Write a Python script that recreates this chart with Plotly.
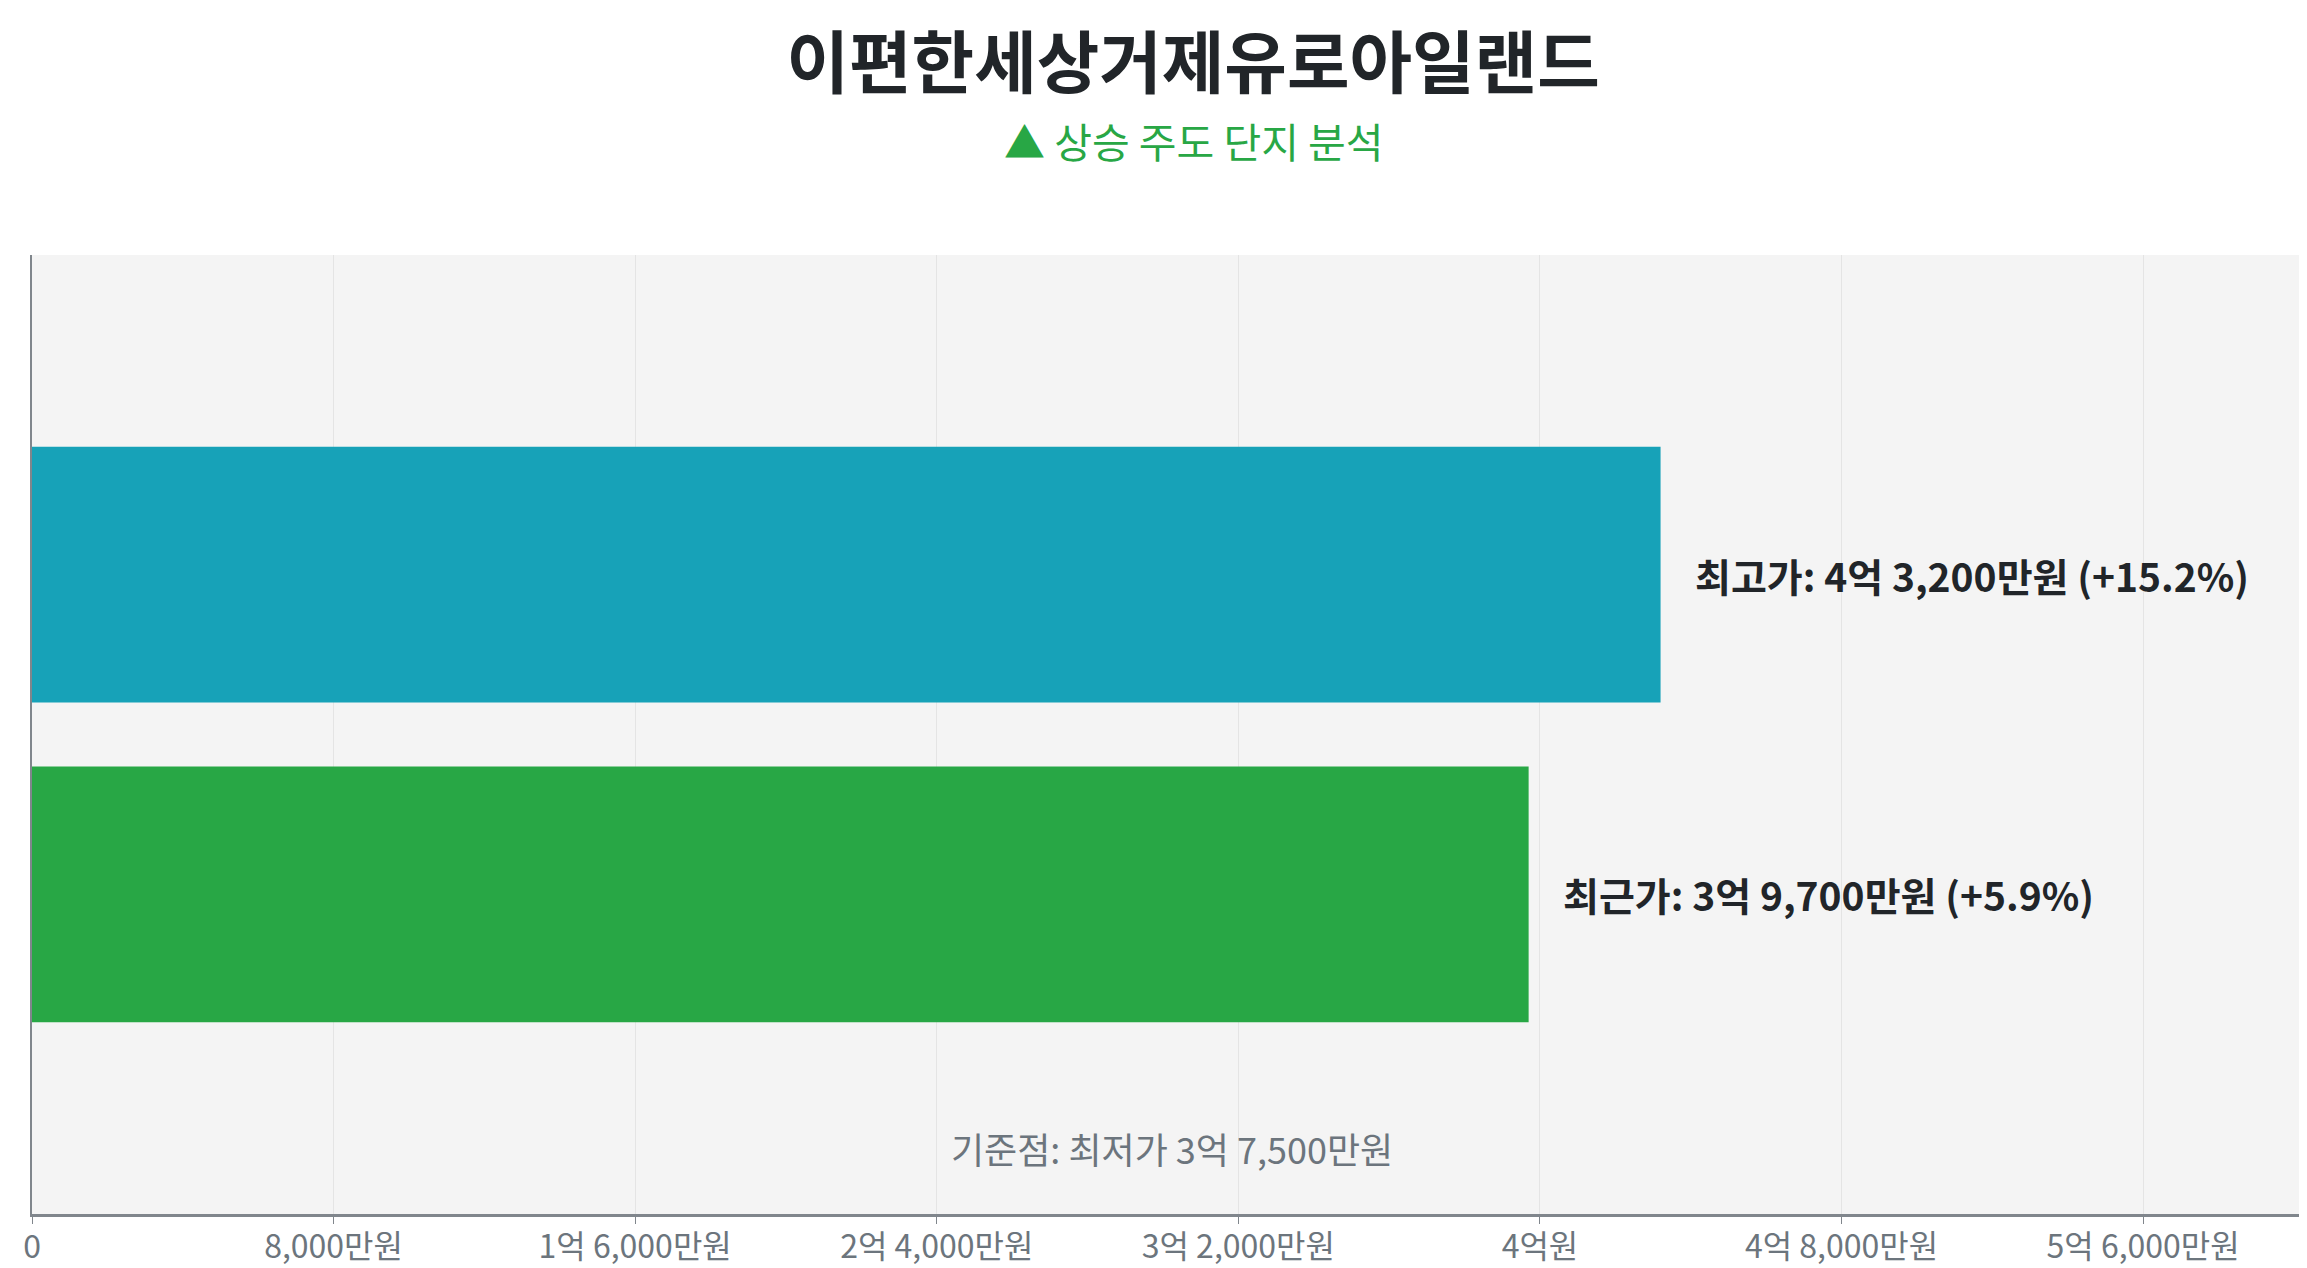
import plotly.graph_objects as go

# values in won
base_label = "최저가"
base_price = 375000000
bar_labels = ["최근가", "최고가"]
bar_prices = [397000000, 432000000]
bar_colors = ["#28a745", "#17a2b8"]
tick_step = 80000000

title_text = "이편한세상거제유로아일랜드"
subtitle_text = "▲ 상승 주도 단지 분석"
FONT = "Noto Sans CJK KR"


def won_text(v):
    # 432000000 -> "4억 3,200만원"
    eok = int(v // 100000000)
    man = int((v % 100000000) // 10000)
    if v == 0:
        return "0"
    if eok and man:
        return f"{eok}억 {man:,}만원"
    if eok:
        return f"{eok}억원"
    return f"{man:,}만원"


x_max = max(bar_prices) * 1.4
tickvals = list(range(0, int(x_max), tick_step))
ticktext = [won_text(v) for v in tickvals]

fig = go.Figure()
fig.add_trace(go.Bar(
    x=bar_prices, y=[1, 2], orientation="h",
    marker=dict(color=bar_colors, line=dict(width=0)),
    width=0.8, showlegend=False, hoverinfo="skip",
))

# labels next to each bar
for lab, p, yy in zip(bar_labels, bar_prices, [1, 2]):
    pct = (p / base_price - 1) * 100
    fig.add_annotation(
        x=p, y=yy, xref="x", yref="y", xanchor="left", yanchor="middle",
        xshift=32, showarrow=False,
        text=f"<b>{lab}: {won_text(p)} (+{pct:.1f}%)</b>",
        font=dict(family=FONT, size=39, color="#212529"),
    )

# baseline note
fig.add_annotation(
    x=0.5, y=0.069, xref="paper", yref="paper", xanchor="center", yanchor="middle",
    showarrow=False, text=f"기준점: {base_label} {won_text(base_price)}",
    font=dict(family=FONT, size=36, color="#6c757d"),
)

# subtitle
fig.add_annotation(
    x=0.5095, y=1.12, xref="paper", yref="paper", xanchor="center", yanchor="middle",
    showarrow=False, text=subtitle_text,
    font=dict(family=FONT, size=41, color="#28a745"),
)

fig.update_layout(
    width=2307, height=1268,
    paper_bgcolor="white", plot_bgcolor="#f4f4f4",
    margin=dict(l=24, r=3, t=247, b=62),
    title=dict(text=f"<b>{title_text}</b>", x=0.5137, xanchor="center",
               y=0.956, yanchor="middle",
               font=dict(family=FONT, size=68, color="#212529")),
    font=dict(family=FONT),
    xaxis=dict(range=[0, x_max], tickvals=tickvals, ticktext=ticktext,
               showgrid=True, gridcolor="#e4e4e4", gridwidth=1,
               zeroline=False, showline=True, linecolor="#80868c", linewidth=3,
               ticks="outside", ticklen=7, tickcolor="#80868c", tickwidth=1,
               ticklabelstandoff=-4,
               tickfont=dict(family=FONT, size=32, color="#6c757d")),
    yaxis=dict(range=[0, 3], showticklabels=False, showgrid=False,
               zeroline=False, showline=True, linecolor="#80868c", linewidth=1.5),
)

fig.write_html("out.html")
